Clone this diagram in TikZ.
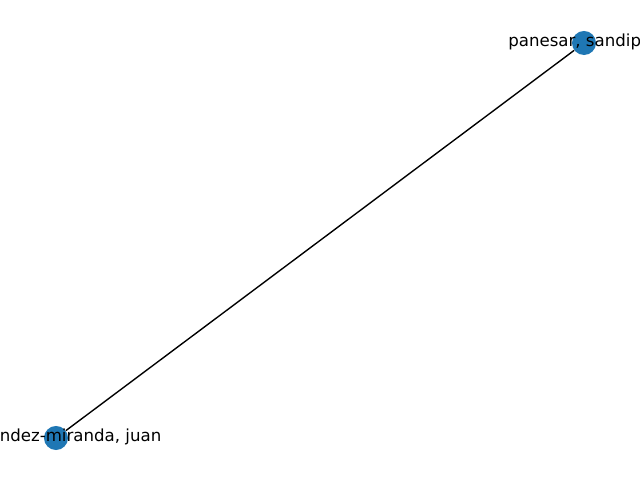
\documentclass[tikz,border=0pt]{standalone}
\usepackage{fontspec}
\setmainfont{DejaVu Sans}
\usepackage{tikz}
\definecolor{cNode}{HTML}{1F77B4}
\tikzset{
  gnode/.style={circle, fill=cNode, draw=none, minimum size=0.24in, inner sep=0pt},
  gedge/.style={draw=black, line width=1pt},
  glbl/.style={font=\fontsize{12pt}{14pt}\selectfont, inner sep=0pt, anchor=west},
}
\begin{document}
\begin{tikzpicture}[x=0.01in, y=-0.01in]
\useasboundingbox (0,0) rectangle (640,480);
% ---- nodes
\node[gnode] (pan) at (584,43) {};
\node[gnode] (fer) at (56,438) {};
% ---- edge
\draw[gedge] (fer) -- (pan);
% ---- labels on top
\node[glbl] (lpan) at (508,42) {panesar, sandip};
\node[glbl] (lfer) at (-0.5,437) {ndez-miranda, juan};
\end{tikzpicture}
\end{document}
